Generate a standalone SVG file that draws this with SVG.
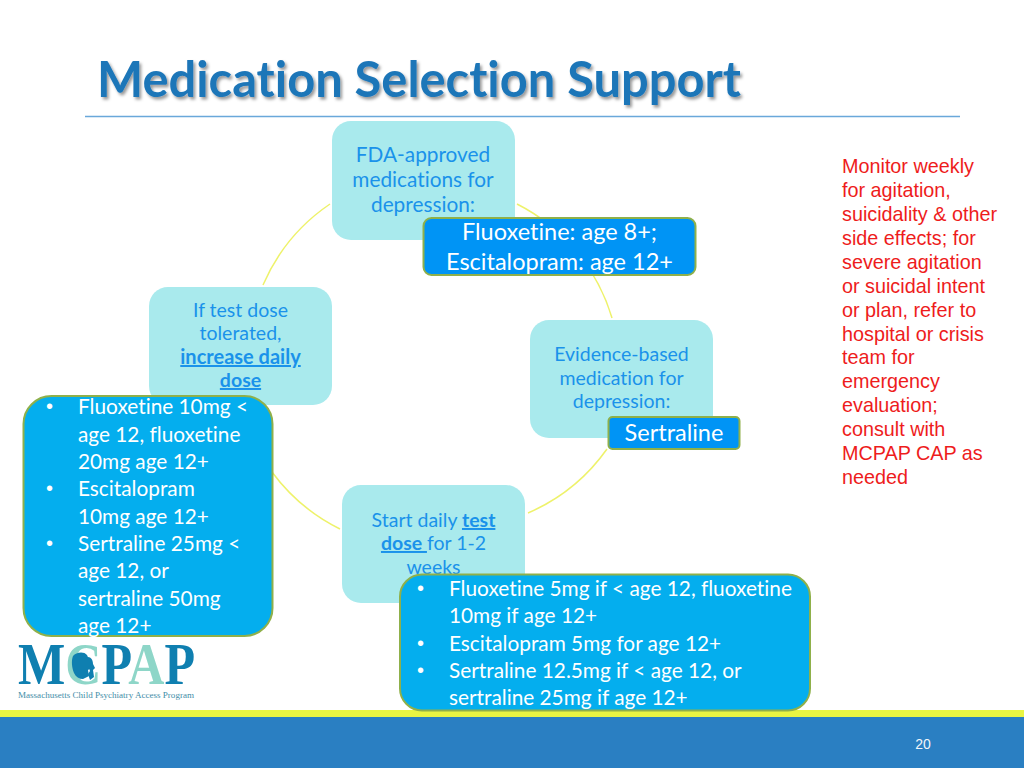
<svg xmlns="http://www.w3.org/2000/svg" width="1024" height="768" viewBox="0 0 1024 768">
<defs>
<filter id="sh" x="-5%" y="-20%" width="110%" height="150%"><feDropShadow dx="2" dy="2.500" stdDeviation="1.800" flood-color="#000" flood-opacity=".4"/></filter>
</defs>
<style>
text{font-family:Lato,"Liberation Sans",sans-serif;font-variant-ligatures:none}
.n{fill:#a9eaed}
.nt{font-size:19.500px;fill:#1a92ea;text-anchor:middle}
.wt{font-size:20.800px;fill:#fff}
.wl{font-size:23.500px;fill:#fff;text-anchor:middle}
.bu{font-family:"Liberation Sans",sans-serif;font-size:20px;fill:#fff}
.b1{fill:#0094f5;stroke:#8fb04a;stroke-width:2}
.b2{fill:#04aeee;stroke:#8fb04a;stroke-width:2}
.arc{fill:none;stroke:#eef26a;stroke-width:1.500}
.red{font-family:"Liberation Sans",Arial,sans-serif;font-size:19.800px;fill:#ee1c1c}
.bl{font-weight:700;text-decoration:underline}
</style>
<rect width="1024" height="768" fill="#fff"/>
<g id="footer"><rect y="710" width="1024" height="7" fill="#e9f542"/><rect y="717" width="1024" height="51" fill="#2a7fc2"/><text x="923" y="749" font-size="14" fill="#f2f6fa" text-anchor="middle" style="font-family:'Liberation Sans',sans-serif">20</text></g>
<g id="title"><text x="97" y="97" font-size="50" font-weight="700" fill="#1f76b8" filter="url(#sh)" textLength="644" lengthAdjust="spacingAndGlyphs">Medication Selection Support</text><line x1="85" y1="116.500" x2="960" y2="116.500" stroke="#6aa8da" stroke-width="1.500"/></g>
<g id="connectors">
<path class="arc" d="M517 204A188 188 0 0 1 612 318"/>
<path class="arc" d="M607 449A188 188 0 0 1 528 513"/>
<path class="arc" d="M340 529A188 188 0 0 1 272 472"/>
<path class="arc" d="M263 285A188 188 0 0 1 330 204"/>
</g>
<g id="node-fda"><rect class="n" x="332" y="121" width="183" height="119" rx="19"/><text class="nt" style="font-size:20.800px"><tspan x="423" y="162">FDA-approved</tspan><tspan x="423" y="187">medications for</tspan><tspan x="423" y="212">depression:</tspan></text></g>
<g id="box-fda"><rect class="b1" x="423.500" y="218" width="272" height="57" rx="8"/><text class="wl"><tspan x="559.500" y="240">Fluoxetine: age 8+;</tspan><tspan x="559.500" y="270">Escitalopram: age 12+</tspan></text></g>
<g id="node-evidence"><rect class="n" x="530" y="320" width="183" height="118" rx="19"/><text class="nt"><tspan x="621.500" y="361">Evidence-based</tspan><tspan x="621.500" y="385">medication for</tspan><tspan x="621.500" y="408">depression:</tspan></text></g>
<g id="box-sertraline"><rect class="b1" x="608.500" y="417" width="131" height="32" rx="4"/><text class="wl" x="674" y="441">Sertraline</text></g>
<g id="node-start"><rect class="n" x="342" y="485" width="183" height="118" rx="19"/><text class="nt"><tspan x="433.500" y="527">Start daily <tspan class="bl">test</tspan></tspan><tspan x="433.500" y="550"><tspan class="bl">dose </tspan>for 1-2</tspan><tspan x="433.500" y="574">weeks</tspan></text></g>
<g id="box-start"><rect class="b2" x="400" y="574.500" width="410" height="136" rx="22"/><text class="bu"><tspan x="417" y="595">•</tspan><tspan x="417" y="650">•</tspan><tspan x="417" y="677">•</tspan></text><text class="wt"><tspan x="449" y="596">Fluoxetine 5mg if &lt; age 12, fluoxetine</tspan><tspan x="449" y="623">10mg if age 12+</tspan><tspan x="449" y="651">Escitalopram 5mg for age 12+</tspan><tspan x="449" y="678">Sertraline 12.5mg if &lt; age 12, or</tspan><tspan x="449" y="705">sertraline 25mg if age 12+</tspan></text></g>
<g id="node-increase"><rect class="n" x="149" y="287" width="183" height="118" rx="19"/><text class="nt"><tspan x="240.500" y="317">If test dose</tspan><tspan x="240.500" y="340">tolerated,</tspan><tspan x="240.500" y="364" class="bl" style="font-size:20px">increase daily</tspan><tspan x="240.500" y="387" class="bl">dose</tspan></text></g>
<g id="box-increase"><rect class="b2" x="23.500" y="396" width="249" height="240" rx="28"/><text class="bu"><tspan x="46" y="413">•</tspan><tspan x="46" y="495">•</tspan><tspan x="46" y="550">•</tspan></text><text class="wt"><tspan x="78" y="414">Fluoxetine 10mg &lt;</tspan><tspan x="78" y="442">age 12, fluoxetine</tspan><tspan x="78" y="469">20mg age 12+</tspan><tspan x="78" y="496">Escitalopram</tspan><tspan x="78" y="524">10mg age 12+</tspan><tspan x="78" y="551">Sertraline 25mg &lt;</tspan><tspan x="78" y="578">age 12, or</tspan><tspan x="78" y="606">sertraline 50mg</tspan><tspan x="78" y="633">age 12+</tspan></text></g>
<g id="monitor-note"><text class="red"><tspan x="842" y="173">Monitor weekly</tspan><tspan x="842" y="197">for agitation,</tspan><tspan x="842" y="221">suicidality &amp; other</tspan><tspan x="842" y="245">side effects; for</tspan><tspan x="842" y="269">severe agitation</tspan><tspan x="842" y="293">or suicidal intent</tspan><tspan x="842" y="317">or plan, refer to</tspan><tspan x="842" y="341">hospital or crisis</tspan><tspan x="842" y="364">team for</tspan><tspan x="842" y="388">emergency</tspan><tspan x="842" y="412">evaluation;</tspan><tspan x="842" y="436">consult with</tspan><tspan x="842" y="460">MCPAP CAP as</tspan><tspan x="842" y="484">needed</tspan></text></g>
<g id="logo">
<text x="18" y="684" style="font-family:'Liberation Serif',serif;font-size:59px;font-weight:700" fill="#0f7fb0" textLength="177" lengthAdjust="spacingAndGlyphs">M<tspan fill="#8ed6c8">C</tspan>P<tspan fill="#8ed6c8">A</tspan>P</text>
<path d="M73 656c3-4 11-5 14-1 2 3 1 6 2 9l2 4-3 2 1 6-6 3c-4 0-7-2-9-6-2-5-3-12-1-17z" fill="#0f7fb0"/>
<path d="M88 657c3 0 5 3 5 7l2 4-2 2 1 7-4 3-2-6 2-3-2-5z" fill="#0f7fb0"/>
<text x="18" y="698" style="font-family:'Liberation Serif',serif;font-size:8.500px" fill="#3f8ea8" textLength="176" lengthAdjust="spacingAndGlyphs">Massachusetts Child Psychiatry Access Program</text>
</g>
</svg>
